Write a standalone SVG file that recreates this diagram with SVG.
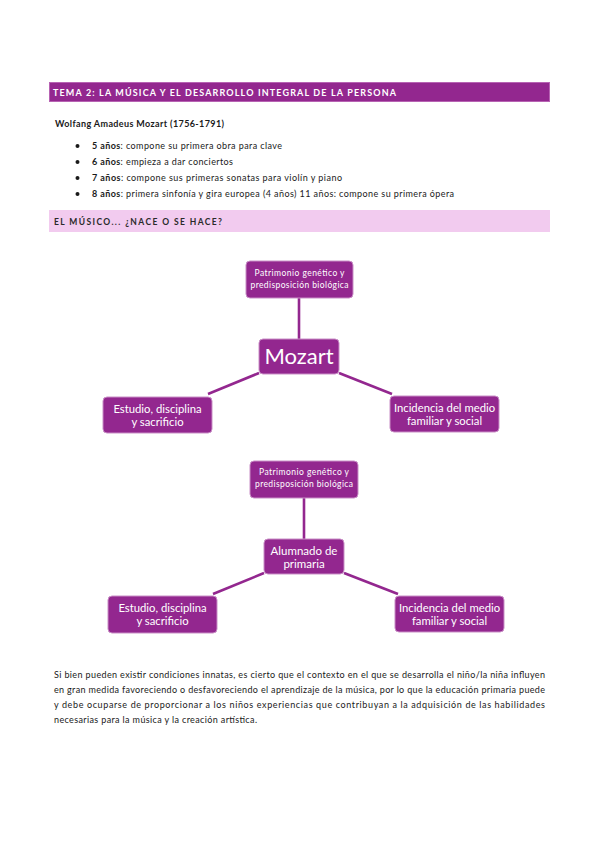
<svg xmlns="http://www.w3.org/2000/svg" width="599" height="848" viewBox="0 0 599 848">
<style>
.body{font-family:Lato,"Liberation Sans",sans-serif;font-size:9px;fill:#1a1a1a}
.b{font-weight:bold}
.node rect{fill:#93278F;stroke:#c98fc6;stroke-width:1}
.node text{font-family:Lato,"Liberation Sans",sans-serif;fill:#ffffff;text-anchor:middle}
.s8{font-size:8.5px}
.s11{font-size:11.3px}
.conn line{stroke:#93278F;stroke-width:2.6}
</style>
<rect width="599" height="848" fill="#ffffff"/>
<g id="header">
<rect x="49" y="82" width="501" height="20" fill="#93278F"/>
<rect x="49.5" y="82.5" width="500" height="19" fill="none" stroke="#b763b3" stroke-width="1"/>
<text x="53" y="96" font-family="Lato,'Liberation Sans',sans-serif" font-size="9" font-weight="bold" fill="#ffffff" textLength="343" lengthAdjust="spacing">TEMA 2: LA MÚSICA Y EL DESARROLLO INTEGRAL DE LA PERSONA</text>
</g>
<text class="body b" x="55" y="127" textLength="169" lengthAdjust="spacing">Wolfang Amadeus Mozart (1756-1791)</text>
<g id="bullets">
<circle cx="77.5" cy="146" r="2" fill="#1a1a1a"/>
<circle cx="77.5" cy="162" r="2" fill="#1a1a1a"/>
<circle cx="77.5" cy="178" r="2" fill="#1a1a1a"/>
<circle cx="77.5" cy="194" r="2" fill="#1a1a1a"/>
<text class="body" x="92" y="149" textLength="190" lengthAdjust="spacing"><tspan class="b">5 años</tspan>: compone su primera obra para clave</text>
<text class="body" x="92" y="165" textLength="141" lengthAdjust="spacing"><tspan class="b">6 años</tspan>: empieza a dar conciertos</text>
<text class="body" x="92" y="181" textLength="250" lengthAdjust="spacing"><tspan class="b">7 años</tspan>: compone sus primeras sonatas para violín y piano</text>
<text class="body" x="92" y="197" textLength="362" lengthAdjust="spacing"><tspan class="b">8 años</tspan>: primera sinfonía y gira europea (4 años) 11 años: compone su primera ópera</text>
</g>
<g id="section">
<rect x="49" y="210" width="501" height="22" fill="#F2CBEF"/>
<text x="54" y="224.5" font-family="Lato,'Liberation Sans',sans-serif" font-size="8.5" font-weight="bold" fill="#2a2a2a" textLength="168" lengthAdjust="spacing">EL MÚSICO... ¿NACE O SE HACE?</text>
</g>
<g id="connectors" class="conn">
<line x1="299" y1="298" x2="299" y2="339"/>
<line x1="259" y1="373" x2="208" y2="394"/>
<line x1="339" y1="373" x2="392" y2="394"/>
<line x1="304" y1="498" x2="304" y2="539"/>
<line x1="264" y1="573" x2="213" y2="594"/>
<line x1="344" y1="573" x2="398" y2="594"/>
</g>
<g id="d1-top" class="node">
<rect x="246" y="261" width="107" height="37" rx="4"/>
<text class="s8" x="299.5" y="276" textLength="90" lengthAdjust="spacing">Patrimonio genético y</text>
<text class="s8" x="299.5" y="288" textLength="98" lengthAdjust="spacing">predisposición biológica</text>
</g>
<g id="d1-center" class="node">
<rect x="259" y="339" width="80" height="35" rx="4"/>
<text x="299" y="364" font-size="22">Mozart</text>
</g>
<g id="d1-left" class="node">
<rect x="103" y="397" width="109" height="36" rx="4"/>
<text class="s11" x="157.5" y="413">Estudio, disciplina</text>
<text class="s11" x="157.5" y="426">y sacrificio</text>
</g>
<g id="d1-right" class="node">
<rect x="390" y="396" width="109" height="36" rx="4"/>
<text class="s11" x="444.5" y="412">Incidencia del medio</text>
<text class="s11" x="444.5" y="425">familiar y social</text>
</g>
<g id="d2-top" class="node">
<rect x="250" y="461" width="108" height="37" rx="4"/>
<text class="s8" x="304" y="475" textLength="90" lengthAdjust="spacing">Patrimonio genético y</text>
<text class="s8" x="304" y="487" textLength="98" lengthAdjust="spacing">predisposición biológica</text>
</g>
<g id="d2-center" class="node">
<rect x="264" y="539" width="80" height="35" rx="4"/>
<text x="304" y="555" font-size="11.5">Alumnado de</text>
<text x="304" y="568" font-size="11.5">primaria</text>
</g>
<g id="d2-left" class="node">
<rect x="108" y="596" width="109" height="37" rx="4"/>
<text class="s11" x="162.5" y="612">Estudio, disciplina</text>
<text class="s11" x="162.5" y="625">y sacrificio</text>
</g>
<g id="d2-right" class="node">
<rect x="395" y="596" width="109" height="36" rx="4"/>
<text class="s11" x="449.5" y="612">Incidencia del medio</text>
<text class="s11" x="449.5" y="625">familiar y social</text>
</g>
<g id="paragraph">
<text class="body" x="54" y="678" textLength="491" lengthAdjust="spacing">Si bien pueden existir condiciones innatas, es cierto que el contexto en el que se desarrolla el niño/la niña influyen</text>
<text class="body" x="54" y="693" textLength="491" lengthAdjust="spacing">en gran medida favoreciendo o desfavoreciendo el aprendizaje de la música, por lo que la educación primaria puede</text>
<text class="body" x="54" y="708" textLength="491" lengthAdjust="spacing">y debe ocuparse de proporcionar a los niños experiencias que contribuyan a la adquisición de las habilidades</text>
<text class="body" x="54" y="723" textLength="203" lengthAdjust="spacing">necesarias para la música y la creación artística.</text>
</g>
</svg>
